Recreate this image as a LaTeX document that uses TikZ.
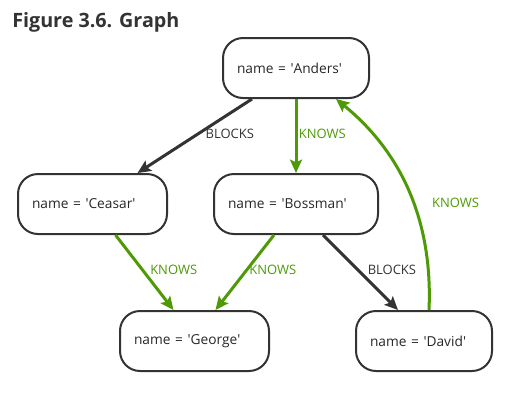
\documentclass[tikz,border=0pt]{standalone}
\usepackage{fontspec}
\setmainfont{Open Sans}
\usetikzlibrary{arrows.meta,calc}
\definecolor{dark}{HTML}{333333}
\definecolor{grn}{HTML}{4E9A06}
\newcommand\quoted[1]{\textquotesingle#1\textquotesingle}
\tikzset{
  box/.style={draw=dark,line width=1.5pt,rounded corners=15pt,minimum height=45pt,
    inner xsep=10.5pt,align=left,text=black!85,font=\fontsize{10.3}{12}\selectfont},
  blocks/.style={draw=dark,line width=2.25pt,-{Stealth[length=10pt,width=9pt,inset=2pt]}},
  knows/.style={draw=grn,line width=2.25pt,-{Stealth[length=10pt,width=9pt,inset=2pt]}},
  lbl/.style={inner sep=0pt,anchor=west,font=\fontsize{9.75}{11}\selectfont}
}
\begin{document}
\begin{tikzpicture}[x=0.75pt,y=-0.75pt]
\useasboundingbox (0,0) rectangle (510,412);
\node[anchor=base west,inner sep=0pt,text=dark,font=\fontsize{14.8}{17}\selectfont\bfseries] (t) at (12,27) {Figure 3.6. Graph};
\node[box,text width=88.5pt] (a) at (296,68) {name = \quoted{Anders}};
\node[box,text width=90.75pt] (b) at (92.5,204) {name = \quoted{Ceasar}};
\node[box,text width=102pt] (c) at (296,204) {name = \quoted{Bossman}};
\node[box,text width=90.75pt] (g) at (194.5,341) {name = \quoted{George}};
\node[box,text width=81pt] (d) at (424,341) {name = \quoted{David}};
\draw[blocks] ($(a.south)+(-44,0)$) -- ($(b.north)+(45,0)$) node[lbl,pos=0.47,xshift=4.5pt,text=dark]{BLOCKS};
\draw[knows] (a.south) -- (c.north) node[lbl,pos=0.47,xshift=1pt,text=grn]{KNOWS};
\draw[knows] ($(b.south)+(23,0)$) -- ($(g.north)+(-21,0)$) node[lbl,pos=0.47,xshift=4.5pt,text=grn]{KNOWS};
\draw[knows] ($(c.south)+(-22,0)$) -- ($(g.north)+(21,0)$) node[lbl,pos=0.47,xshift=1pt,text=grn]{KNOWS};
\draw[blocks] ($(c.south)+(27,0)$) -- ($(d.north)+(-26,0)$) node[lbl,pos=0.47,xshift=6pt,text=dark]{BLOCKS};
\draw[knows] ($(d.north)+(5,0)$) .. controls +(4,-91) and +(64,52) .. ($(a.south)+(40,0)$) node[lbl,pos=0.44,xshift=13pt,text=grn]{KNOWS};
\end{tikzpicture}
\end{document}
